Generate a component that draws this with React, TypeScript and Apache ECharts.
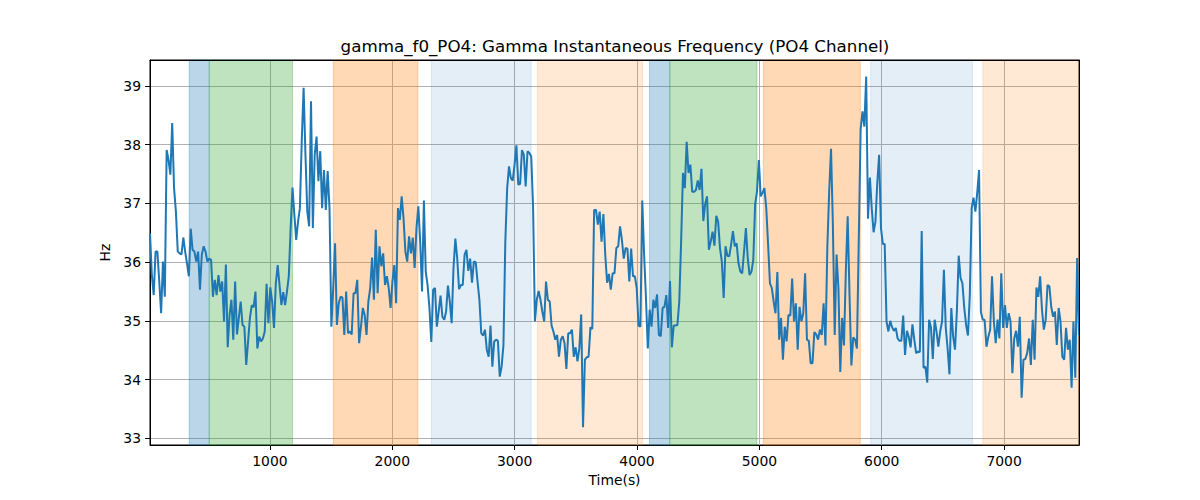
import React, { useEffect, useRef } from "react";
import * as echarts from "echarts";

const TITLE = "gamma_f0_PO4: Gamma Instantaneous Frequency (PO4 Channel)";
const X_LABEL = "Time(s)";
const Y_LABEL = "Hz";

// time axis: first and last sample (s)
const T_START = 20;
const T_END = 7612;

// gamma instantaneous frequency (Hz), uniformly sampled between T_START and T_END
const freqPart1 = [
  36.49, 35.78, 35.44, 36.18, 36.18, 35.67, 35.13, 36.01, 35.41, 37.91,
  37.74, 37.49, 38.37, 37.26, 36.86, 36.18, 36.15, 36.13, 36.42, 36.18,
  35.98, 35.76, 36.57, 36.21, 36.18, 36.01, 36.18, 35.53, 36.13, 36.27,
  36.18, 36.01, 36.06, 36.04, 35.41, 35.70, 35.44, 35.78, 35.50, 35.67,
  34.99, 35.96, 34.55, 35.10, 35.36, 34.68, 35.67, 34.77, 35.05, 35.33,
  34.93, 34.90, 34.25, 34.65, 35.05, 35.27, 35.23, 35.50, 34.53, 34.73,
  34.65, 34.70, 34.82, 35.63, 34.96, 35.57, 35.33, 34.88, 35.64,
];
const freqPart2 = [
  35.95, 35.61, 35.27, 35.49, 35.27, 35.50, 35.76, 36.58, 37.27, 36.81,
  36.38, 36.69, 36.92, 38.06, 38.97, 37.83, 36.86, 36.61, 38.74, 36.58,
  37.83, 38.14, 37.38, 37.89, 36.92, 37.57, 36.89, 37.55, 36.92, 34.90,
  35.56, 36.32, 34.93, 35.30, 35.41, 35.40, 34.76, 35.50, 34.79, 34.82,
  34.77, 35.47, 35.47, 35.70, 34.62, 34.90, 35.22, 35.10, 34.76, 35.33,
  35.56, 36.08, 35.36, 36.55, 35.47, 36.27, 35.93, 36.15, 35.61, 35.76,
  35.56, 35.22, 35.67, 35.95, 35.30, 36.92, 36.72, 37.12, 36.75, 36.18,
  36.01, 36.44, 36.15, 36.42,
];
const freqPart3 = [
  35.90, 36.58, 36.95, 36.35, 35.50, 37.05, 35.84, 35.61, 35.22, 34.64,
  35.53, 35.56, 34.90, 35.16, 35.43, 35.07, 35.02, 35.16, 35.60, 35.33,
  34.96, 35.90, 36.40, 36.07, 35.54, 35.61, 35.61, 36.13, 36.21, 35.85,
  36.06, 35.65, 36.01, 36.00, 35.67, 35.36, 34.79, 34.75, 34.85, 34.51,
  34.39, 34.92, 34.22, 34.65, 34.68, 34.66, 34.05, 34.22, 34.59, 36.35,
  37.26, 37.63, 37.43, 37.39, 37.66, 37.99, 37.32, 37.33, 37.91, 37.83,
  37.29, 37.89, 37.86, 37.80, 36.95, 34.99, 35.36, 35.51, 35.36, 35.16,
  34.99, 35.67,
];
const freqPart4 = [
  35.36, 35.33, 34.92, 34.82, 34.68, 34.76, 34.39, 34.68, 34.74, 34.62,
  34.18, 34.79, 34.79, 34.85, 34.39, 34.55, 34.31, 34.53, 35.11, 33.19,
  34.34, 34.38, 34.39, 34.89, 34.86, 36.89, 36.89, 36.64, 36.86, 36.35,
  36.82, 36.13, 35.65, 35.80, 35.53, 35.81, 35.81, 36.24, 36.27, 36.61,
  36.38, 36.06, 36.24, 36.23, 35.67, 36.23, 35.76, 35.76, 35.56, 34.92,
  34.90, 37.05, 36.13, 35.39, 34.53, 35.19, 34.90, 35.36, 35.22, 35.45,
  34.76, 34.74, 35.22, 35.24, 35.44, 34.88, 35.68, 34.55, 34.92, 34.92,
  34.93,
];
const freqPart5 = [
  35.33, 36.35, 37.52, 37.26, 38.05, 37.52, 37.66, 37.20, 37.20, 37.23,
  37.39, 37.23, 37.59, 36.70, 36.99, 37.12, 36.21, 36.35, 36.52, 36.28,
  36.79, 36.69, 36.24, 36.01, 35.39, 36.27, 36.11, 36.10, 36.30, 36.53,
  36.27, 36.32, 35.98, 35.84, 35.81, 36.18, 36.58, 36.07, 35.78, 35.84,
  36.04, 36.99, 37.20, 37.74, 37.12, 37.18, 37.26, 36.92, 36.30, 35.64,
  35.56, 35.33, 35.13, 35.83, 34.68, 35.05, 34.34, 34.90, 34.65, 35.10,
  35.09, 35.72, 34.99, 35.30, 34.51, 35.24, 34.99, 35.13, 35.81, 34.68,
  34.66, 34.28,
];
const freqPart6 = [
  34.28, 34.81, 34.77, 34.68, 34.85, 34.76, 35.30, 34.58, 36.24, 37.20,
  37.93, 36.64, 34.76, 36.13, 35.56, 34.13, 35.05, 34.58, 35.84, 36.78,
  35.44, 34.24, 34.72, 34.68, 34.53, 36.38, 38.26, 38.57, 38.31, 39.16,
  36.74, 37.44, 36.92, 36.51, 36.69, 37.35, 37.83, 36.58, 36.31, 36.31,
  34.99, 34.82, 35.00, 34.89, 34.83, 34.88, 34.70, 34.66, 34.66, 35.09,
  34.42, 34.83, 34.73, 34.55, 34.94, 34.68, 34.45, 34.48, 34.47, 36.53,
  34.20, 34.22, 33.95, 35.02, 34.89, 34.35, 35.02, 34.82, 34.56, 34.82,
  34.99,
];
const freqPart7 = [
  35.87, 34.88, 34.53, 34.09, 35.22, 34.73, 34.51, 35.16, 36.11, 35.73,
  35.64, 35.22, 34.93, 34.75, 35.44, 36.92, 37.10, 36.86, 37.18, 37.57,
  35.15, 35.02, 35.02, 34.56, 34.73, 34.85, 35.76, 34.99, 34.62, 35.02,
  34.70, 35.81, 34.88, 35.27, 34.88, 35.13, 34.99, 34.11, 34.70, 34.83,
  34.56, 35.07, 33.69, 34.34, 34.35, 34.45, 34.70, 34.25, 35.02, 34.34,
  35.57, 35.41, 35.76, 35.19, 34.85, 35.02, 35.61, 35.59, 35.24, 35.07,
  35.16, 34.59, 35.22, 34.99, 34.39, 34.34, 34.88, 34.51, 34.68, 33.86,
  34.99, 34.03, 36.07, 34.76,
];

// shaded intervals: start, end, kind
const spanStarts = [340, 504, 1518, 2319, 3186, 4102, 4268, 5032, 5910, 6826];
const spanEnds = [504, 1185, 2210, 3135, 4045, 4268, 4980, 5825, 6741, 7612];
const spanKinds = ["blue", "green", "orange", "lightblue", "lightorange", "blue", "green", "orange", "lightblue", "lightorange"];

const Y_MIN = 32.886;
const Y_MAX = 39.443;

const SPAN_COLORS: Record<string, string> = {
  blue: "rgba(31,119,180,0.3)",
  green: "rgba(44,160,44,0.3)",
  orange: "rgba(255,127,14,0.3)",
  lightblue: "rgba(31,119,180,0.12)",
  lightorange: "rgba(255,127,14,0.18)",
};

export default function App() {
  const ref = useRef<HTMLDivElement>(null);

  useEffect(() => {
    if (!ref.current) return;
    const chart = echarts.init(ref.current, undefined, { renderer: "svg" });

    const values = [
      ...freqPart1, ...freqPart2, ...freqPart3, ...freqPart4,
      ...freqPart5, ...freqPart6, ...freqPart7,
    ];
    const step = (T_END - T_START) / (values.length - 1);
    const data = values.map((v, i) => [T_START + i * step, v]);

    const areas = spanStarts.map((s, i) => [
      {
        xAxis: s,
        itemStyle: {
          color: SPAN_COLORS[spanKinds[i]],
          borderColor: SPAN_COLORS[spanKinds[i]],
          borderWidth: 1,
        },
      },
      { xAxis: spanEnds[i] },
    ]);

    const font = "DejaVu Sans";
    const tickLabel = {
      color: "#000",
      fontSize: 13.9,
      fontFamily: font,
      margin: 9,
      showMinLabel: false,
      showMaxLabel: false,
    };

    chart.setOption({
      animation: false,
      backgroundColor: "#ffffff",
      textStyle: { fontFamily: font },
      grid: {
        left: 150,
        right: 121,
        top: 60,
        bottom: 55,
        show: true,
        borderColor: "#000000",
        borderWidth: 1,
        backgroundColor: "transparent",
      },
      graphic: [
        {
          type: "text",
          x: 615,
          y: 46,
          style: {
            text: TITLE,
            fill: "#000000",
            font: `16.7px "${font}"`,
            textAlign: "center",
            textVerticalAlign: "middle",
          },
        },
      ],
      xAxis: [
        {
          type: "value",
          min: T_START,
          max: T_END,
          minInterval: 1000,
          maxInterval: 1000,
          name: X_LABEL,
          nameLocation: "middle",
          nameGap: 27,
          nameTextStyle: { color: "#000", fontSize: 13.9, fontFamily: font },
          axisLine: { show: true, lineStyle: { color: "#000", width: 1 } },
          axisTick: { show: true, inside: false, length: 5, lineStyle: { color: "#000", width: 1 } },
          axisLabel: { ...tickLabel, formatter: (v: number) => String(Math.round(v)) },
          splitLine: { show: true, lineStyle: { color: "#b0b0b0", width: 1 } },
        },
        {
          type: "value",
          position: "top",
          min: T_START,
          max: T_END,
          z: 10,
          axisLine: { show: true, onZero: false, lineStyle: { color: "#000", width: 1 } },
          axisTick: { show: false },
          axisLabel: { show: false },
          splitLine: { show: false },
        },
      ],
      yAxis: [
        {
          type: "value",
          min: Y_MIN,
          max: Y_MAX,
          minInterval: 1,
          maxInterval: 1,
          name: Y_LABEL,
          nameLocation: "middle",
          nameGap: 30,
          nameTextStyle: { color: "#000", fontSize: 13.9, fontFamily: font },
          axisLine: { show: true, lineStyle: { color: "#000", width: 1 } },
          axisTick: { show: true, inside: false, length: 5, lineStyle: { color: "#000", width: 1 } },
          axisLabel: { ...tickLabel, formatter: (v: number) => String(Math.round(v)) },
          splitLine: { show: true, lineStyle: { color: "#b0b0b0", width: 1 } },
        },
        {
          type: "value",
          position: "right",
          min: Y_MIN,
          max: Y_MAX,
          z: 10,
          axisLine: { show: true, onZero: false, lineStyle: { color: "#000", width: 1 } },
          axisTick: { show: false },
          axisLabel: { show: false },
          splitLine: { show: false },
        },
      ],
      series: [
        {
          type: "line",
          xAxisIndex: 0,
          yAxisIndex: 0,
          data,
          showSymbol: false,
          symbol: "none",
          clip: true,
          lineStyle: { color: "#1f77b4", width: 2 },
          itemStyle: { color: "#1f77b4" },
          z: 3,
          markArea: {
            silent: true,
            data: areas,
          },
        },
      ],
    });

    return () => chart.dispose();
  }, []);

  return (
    <div
      ref={ref}
      style={{ position: "fixed", left: 0, top: 0, width: 1200, height: 500 }}
    />
  );
}
